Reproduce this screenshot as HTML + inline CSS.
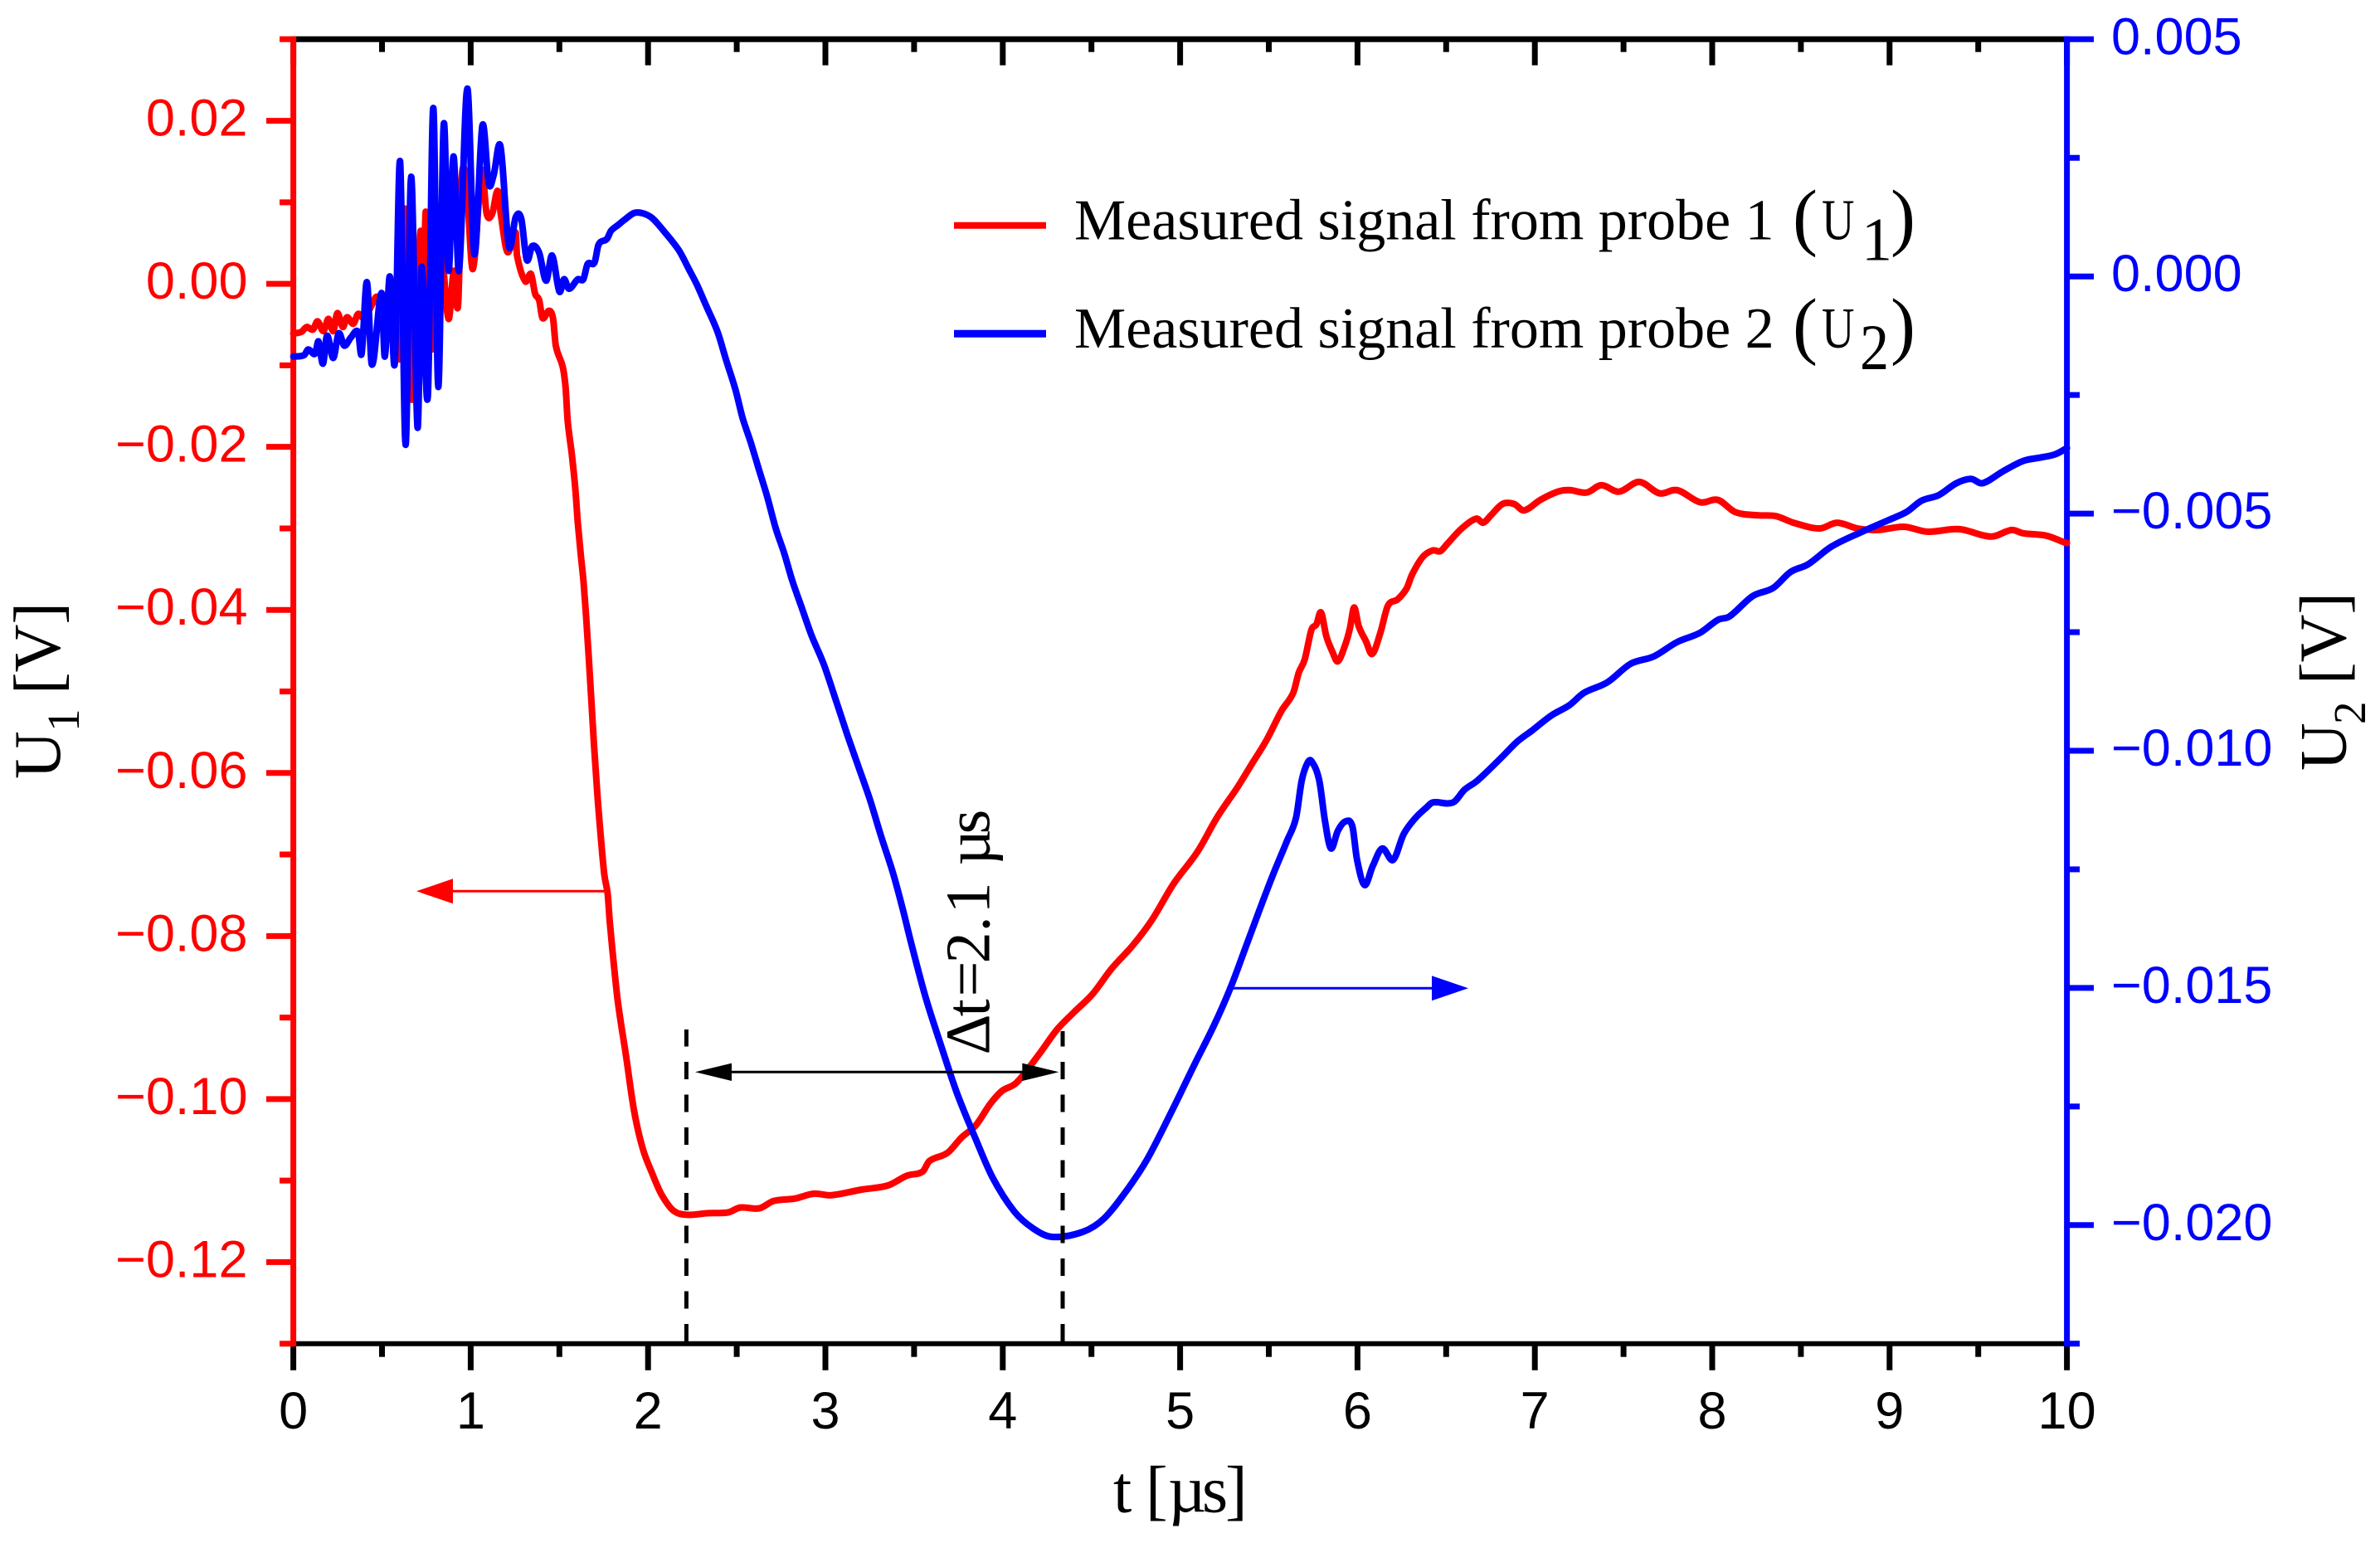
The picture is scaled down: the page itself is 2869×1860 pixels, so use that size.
<!DOCTYPE html>
<html lang="en">
<head>
<meta charset="utf-8">
<title>Measured signals from probes 1 and 2</title>
<style>
html,body{margin:0;padding:0;background:#fff;width:2869px;height:1860px;overflow:hidden}
svg{display:block}
.tick{font-family:"Liberation Sans",Arial,sans-serif;font-size:63px}
.serif{font-family:"Liberation Serif","Times New Roman",serif;fill:#000}
</style>
</head>
<body>
<svg id="chart" xmlns="http://www.w3.org/2000/svg" width="2869" height="1860" viewBox="0 0 2869 1860">
  <rect x="0" y="0" width="2869" height="1860" fill="#fff"/>
  <g id="axes"></g>
  <g id="series" fill="none" stroke-width="8" stroke-linejoin="round" stroke-linecap="round"></g>

  <g>
    <line x1="827.4" y1="1617" x2="827.4" y2="1241" stroke="#000" stroke-width="5" stroke-dasharray="21 18.5"/>
    <line x1="1281" y1="1617" x2="1281" y2="1243" stroke="#000" stroke-width="5" stroke-dasharray="21 18.5"/>
    <line x1="870" y1="1292.3" x2="1245" y2="1292.3" stroke="#000" stroke-width="3"/>
    <polygon points="838,1292.3 882,1281.6 882,1303" fill="#000"/>
    <polygon points="1276.3,1292.3 1232.3,1281.6 1232.3,1303" fill="#000"/>
    <text class="serif" font-size="76" transform="translate(1192.5,1271.4) rotate(-90)" x="0 46 70 110 148 170 208 228 266" y="0">Δt=2.1 µs</text>
  </g>

  <g>
    <line x1="728" y1="1074.3" x2="540" y2="1074.3" stroke="#f00" stroke-width="3"/>
    <polygon points="502,1074.3 546,1059.3 546,1089.3" fill="#f00"/>
  </g>
  <g>
    <line x1="1479" y1="1191.3" x2="1732" y2="1191.3" stroke="#00f" stroke-width="3"/>
    <polygon points="1770,1191.3 1726,1176.3 1726,1206.3" fill="#00f"/>
  </g>

  <g>
    <g>
      <line x1="1150" y1="271.7" x2="1261" y2="271.7" stroke="#f00" stroke-width="8"/>
      <text class="serif" font-size="70" x="1295" y="288.3">Measured signal from probe 1</text>
      <text class="serif" font-size="90" x="2161" y="291">(</text>
      <text class="serif" font-size="70" transform="translate(2196,288.3) scale(.78,1)">U</text>
      <text class="serif" font-size="74" x="2244" y="313.3">1</text>
      <text class="serif" font-size="90" x="2279" y="291">)</text>
    </g>
    <g>
      <line x1="1150" y1="402.3" x2="1261" y2="402.3" stroke="#00f" stroke-width="9"/>
      <text class="serif" font-size="70" x="1295" y="419">Measured signal from probe 2</text>
      <text class="serif" font-size="90" x="2161" y="422">(</text>
      <text class="serif" font-size="70" transform="translate(2196,419) scale(.78,1)">U</text>
      <text class="serif" font-size="78" transform="translate(2242,445) scale(.9,1)">2</text>
      <text class="serif" font-size="90" x="2279" y="422">)</text>
    </g>
  </g>

  <g>
    <text class="serif" font-size="80" x="1342 1364 1381 1408 1449 1477" y="1822.7">t [µs]</text>
  </g>
  <g transform="translate(72,939) rotate(-90)">
    <text class="serif" font-size="80" x="0" y="0">U</text>
    <text class="serif" font-size="55" x="57" y="23">1</text>
    <text class="serif" font-size="80" x="102" y="0">[V]</text>
  </g>
  <g transform="translate(2827.3,929) rotate(-90)">
    <text class="serif" font-size="80" x="0" y="0">U</text>
    <text class="serif" font-size="55" x="56" y="23.5">2</text>
    <text class="serif" font-size="80" x="104" y="0">[V]</text>
  </g>
</svg>

<script>
// ---- Chart data ----
const timeU1 = [0,.045,.076,.111,.136,.170,.198,.225,.248,.279,.302,.338,.365,.40,.445,.471,.49,.52,.56,.60,.63,.669,.716,.735,.747,.786,.83,.875,.905,.929,.95,.977,1.012,1.062,1.09,1.121,1.152,1.171,1.207,1.254,1.261,1.308,1.340,1.363,1.386,1.405,1.441,1.464,1.480,1.519,1.535,1.547,1.570,1.589,1.604,1.620,1.636,1.651,1.664,1.680,1.695,1.714,1.733,1.753,1.772,1.784,1.800,1.829,1.875,1.921,1.969,2.023,2.076,2.144,2.224,2.332,2.452,2.520,2.627,2.708,2.828,2.936,3.030,3.204,3.352,3.459,3.548,3.586,3.688,3.768,3.849,3.929,3.996,4.077,4.198,4.305,4.399,4.507,4.614,4.735,4.842,4.963,5.097,5.210,5.325,5.407,5.489,5.571,5.637,5.669,5.702,5.741,5.768,5.794,5.824,5.856,5.889,5.932,5.958,5.981,6.007,6.047,6.083,6.129,6.171,6.227,6.276,6.309,6.368,6.424,6.467,6.506,6.588,6.670,6.709,6.752,6.818,6.883,6.939,7.031,7.129,7.195,7.293,7.375,7.474,7.589,7.703,7.802,7.933,8.032,8.130,8.261,8.360,8.458,8.606,8.704,8.819,8.934,9.081,9.212,9.393,9.574,9.688,9.754,9.885,9.984,10];
const valuesU1 = [-.0061,-.0059,-.0053,-.0056,-.0046,-.0058,-.0043,-.0058,-.0036,-.0053,-.0041,-.0049,-.0037,-.0042,-.0025,-.0016,-.0030,-.0055,-.0010,-.0090,.0092,-.0142,.0063,.0010,.0088,-.0080,.0040,-.0043,.0016,-.0026,.0131,.0118,.0018,.0139,.0086,.0086,.0114,.0083,.0039,.0063,.0035,.0003,.0012,-.0012,-.0020,-.0042,-.0033,-.0042,-.0076,-.0102,-.0127,-.0168,-.0209,-.0249,-.0293,-.0331,-.0365,-.0409,-.0453,-.0510,-.0565,-.0626,-.0677,-.0724,-.0748,-.0782,-.0819,-.0879,-.0946,-.1014,-.1060,-.1091,-.1117,-.1137,-.1142,-.1140,-.1139,-.1133,-.1134,-.1125,-.1122,-.1116,-.1118,-.1111,-.1106,-.1094,-.1089,-.1076,-.1066,-.1047,-.1032,-.1006,-.0990,-.0980,-.0947,-.0915,-.0894,-.0871,-.0840,-.0811,-.0780,-.0736,-.0697,-.0654,-.0617,-.0588,-.0559,-.0524,-.0502,-.0477,-.0461,-.0424,-.0418,-.0403,-.0432,-.0450,-.0463,-.0442,-.0422,-.0397,-.0420,-.0438,-.0454,-.0428,-.0395,-.0387,-.0374,-.0356,-.0335,-.0327,-.0328,-.0319,-.0300,-.0288,-.0293,-.0284,-.0270,-.0270,-.0278,-.0265,-.0255,-.0253,-.0256,-.0247,-.0255,-.0243,-.0257,-.0253,-.0268,-.0265,-.0280,-.0284,-.0285,-.0293,-.0300,-.0293,-.0300,-.0302,-.0298,-.0304,-.0301,-.0310,-.0302,-.0306,-.0309,-.0317,-.0318];
const timeU2 = [0,.061,.084,.123,.142,.167,.190,.225,.256,.287,.326,.365,.385,.415,.443,.497,.516,.544,.572,.602,.633,.664,.700,.723,.758,.789,.817,.848,.875,.903,.934,.981,1.020,1.066,1.102,1.129,1.168,1.215,1.254,1.285,1.316,1.347,1.386,1.425,1.459,1.500,1.526,1.554,1.604,1.635,1.659,1.698,1.721,1.768,1.791,1.830,1.869,1.924,1.979,2.026,2.088,2.174,2.228,2.275,2.330,2.392,2.439,2.493,2.532,2.579,2.626,2.673,2.720,2.767,2.813,2.868,2.923,2.992,3.063,3.125,3.179,3.250,3.312,3.382,3.437,3.483,3.565,3.655,3.741,3.849,3.943,4.064,4.171,4.278,4.453,4.574,4.708,4.816,4.950,5.084,5.191,5.286,5.358,5.440,5.522,5.604,5.653,5.686,5.719,5.741,5.784,5.817,5.850,5.889,5.932,5.971,5.997,6.040,6.086,6.139,6.201,6.260,6.326,6.391,6.424,6.539,6.604,6.670,6.736,6.818,6.900,6.982,7.096,7.195,7.277,7.408,7.539,7.671,7.802,7.933,8.032,8.097,8.228,8.343,8.442,8.540,8.671,8.835,8.999,9.098,9.180,9.278,9.377,9.459,9.524,9.639,9.754,9.850,9.934,10];
const valuesU2 = [-.00169,-.00166,-.00154,-.00163,-.00137,-.00184,-.00125,-.00172,-.00120,-.00146,-.00128,-.00117,-.00163,-.00012,-.00186,-.00035,-.00169,.00000,-.00183,.00242,-.00355,.00210,-.00318,.00020,-.00253,.00355,-.00233,.00320,.00012,.00253,.00012,.00396,.00047,.00318,.00195,.00213,.00274,.00064,.00125,.00122,.00035,.00064,.00050,-.00009,.00044,-.00032,-.00006,-.00026,-.00006,-.00006,.00026,.00029,.00067,.00079,.00096,.00108,.00120,.00134,.00132,.00122,.00096,.00055,.00017,-.00017,-.00064,-.00117,-.00175,-.00239,-.00297,-.00350,-.00408,-.00466,-.00531,-.00583,-.00641,-.00700,-.00758,-.00819,-.00898,-.00968,-.01026,-.01102,-.01178,-.01259,-.01335,-.01405,-.01520,-.01625,-.01721,-.01820,-.01900,-.01971,-.02007,-.02025,-.02014,-.01985,-.01922,-.01860,-.01762,-.01659,-.01579,-.01498,-.01426,-.01343,-.01263,-.01189,-.01142,-.01062,-.01025,-.01022,-.01062,-.01149,-.01206,-.01169,-.01149,-.01159,-.01229,-.01283,-.01243,-.01206,-.01230,-.01176,-.01142,-.01119,-.01109,-.01109,-.01082,-.01065,-.01042,-.01012,-.00981,-.00958,-.00925,-.00904,-.00878,-.00856,-.00817,-.00801,-.00771,-.00751,-.00724,-.00717,-.00674,-.00657,-.00623,-.00607,-.00570,-.00540,-.00513,-.00496,-.00473,-.00461,-.00436,-.00427,-.00436,-.00411,-.00389,-.00382,-.00375,-.00362];

const xMajorTicks = [0,1,2,3,4,5,6,7,8,9,10];
const xMinorTicks = [.5,1.5,2.5,3.5,4.5,5.5,6.5,7.5,8.5,9.5];
const xTickLabels = ["0","1","2","3","4","5","6","7","8","9","10"];
const leftMajorTicks = [.02,0,-.02,-.04,-.06,-.08,-.10,-.12];
const leftMinorTicks = [.03,.01,-.01,-.03,-.05,-.07,-.09,-.11,-.13];
const leftTickLabels = ["0.02","0.00","\u22120.02","\u22120.04","\u22120.06","\u22120.08","\u22120.10","\u22120.12"];
const rightMajorTicks = [.005,0,-.005,-.01,-.015,-.02];
const rightMinorTicks = [.0025,-.0025,-.0075,-.0125,-.0175,-.0225];
const rightTickLabels = ["0.005","0.000","\u22120.005","\u22120.010","\u22120.015","\u22120.020"];

// ---- Axis functions ----
const plotLeft = 353.6, plotRight = 2491.6, plotTop = 47.3, plotBottom = 1619.7;
const xDomain = [0, 10], leftDomain = [-.13, .03], rightDomain = [-.0225, .005];
function xScale(t){ return plotLeft + (t - xDomain[0]) / (xDomain[1] - xDomain[0]) * (plotRight - plotLeft); }
function yLeft(v){ return plotBottom - (v - leftDomain[0]) / (leftDomain[1] - leftDomain[0]) * (plotBottom - plotTop); }
function yRight(v){ return plotBottom - (v - rightDomain[0]) / (rightDomain[1] - rightDomain[0]) * (plotBottom - plotTop); }

// ---- Drawing ----
const NS = 'http://www.w3.org/2000/svg';
const axesGroup = document.getElementById('axes');
const seriesGroup = document.getElementById('series');
function makeLine(x1, y1, x2, y2, color, width){
  const l = document.createElementNS(NS, 'line');
  l.setAttribute('x1', x1);
  l.setAttribute('y1', y1);
  l.setAttribute('x2', x2);
  l.setAttribute('y2', y2);
  l.setAttribute('stroke', color);
  l.setAttribute('stroke-width', width);
  axesGroup.appendChild(l);
  return l;
}
function makeLabel(x, y, str, color, anchor){
  const t = document.createElementNS(NS, 'text');
  t.setAttribute('x', x);
  t.setAttribute('y', y);
  t.setAttribute('fill', color);
  t.setAttribute('text-anchor', anchor);
  t.setAttribute('class', 'tick');
  t.textContent = str;
  axesGroup.appendChild(t);
  return t;
}

// top and bottom (black) axes
const topLine = makeLine(plotLeft, plotTop, plotRight, plotTop, '#000', 7);


const bottomLine = makeLine(plotLeft, plotBottom, plotRight, plotBottom, '#000', 6);



xMajorTicks.forEach(function(t, i){
  const b = makeLine(xScale(t), plotBottom, xScale(t), 1651.7, '#000', 7);
  
  
  const a = makeLine(xScale(t), plotTop, xScale(t), 78.7, '#000', 7);
  
  
  const lab = makeLabel(xScale(t), 1722, xTickLabels[i], '#000', 'middle');
  
  
});
xMinorTicks.forEach(function(t){
  const b = makeLine(xScale(t), plotBottom, xScale(t), 1635.7, '#000', 7);
  
  
  const a = makeLine(xScale(t), plotTop, xScale(t), 62.7, '#000', 7);
  
  
});

// left (red) axis
leftMajorTicks.forEach(function(v, i){
  const m = makeLine(321, yLeft(v), plotLeft, yLeft(v), '#f00', 7);
  
  
  const lab = makeLabel(298.5, yLeft(v) + 18, leftTickLabels[i], '#f00', 'end');
  
  
});
leftMinorTicks.forEach(function(v){
  const m = makeLine(337, yLeft(v), plotLeft, yLeft(v), '#f00', 7);
  
  
});
const leftLine = makeLine(plotLeft, plotTop - 3.5, plotLeft, plotBottom + 3.5, '#f00', 7);



// right (blue) axis
rightMajorTicks.forEach(function(v, i){
  const m = makeLine(plotRight, yRight(v), 2524, yRight(v), '#00f', 7);
  
  
  const lab = makeLabel(2545, yRight(v) + 18, rightTickLabels[i], '#00f', 'start');
  
  
});
rightMinorTicks.forEach(function(v){
  const m = makeLine(plotRight, yRight(v), 2507, yRight(v), '#00f', 7);
  
  
});
const rightLine = makeLine(plotRight, plotTop - 3.5, plotRight, plotBottom + 3.5, '#00f', 7);



// series: cubic Hermite through every data point, so the curve stays smooth
function pathFrom(times, values, yFn){
  const xs = times.map(xScale);
  const ys = values.map(yFn);
  const n = xs.length;
  function slope(i){
    const a = Math.max(0, i - 1), b = Math.min(n - 1, i + 1);
    return (ys[b] - ys[a]) / (xs[b] - xs[a]);
  }
  let d = 'M' + xs[0].toFixed(1) + ' ' + ys[0].toFixed(1);
  for (let i = 0; i < n - 1; i++) {
    const dx = (xs[i + 1] - xs[i]) / 3;
    d += ' C' + (xs[i] + dx).toFixed(1) + ' ' + (ys[i] + slope(i) * dx).toFixed(1) + ' ' +
      (xs[i + 1] - dx).toFixed(1) + ' ' + (ys[i + 1] - slope(i + 1) * dx).toFixed(1) + ' ' +
      xs[i + 1].toFixed(1) + ' ' + ys[i + 1].toFixed(1);
  }
  return d;
}
const curveU1 = document.createElementNS(NS, 'path');
curveU1.setAttribute('d', pathFrom(timeU1, valuesU1, yLeft));
curveU1.setAttribute('stroke', '#f00');


seriesGroup.appendChild(curveU1);
const curveU2 = document.createElementNS(NS, 'path');
curveU2.setAttribute('d', pathFrom(timeU2, valuesU2, yRight));
curveU2.setAttribute('stroke', '#00f');


seriesGroup.appendChild(curveU2);
</script>
</body>
</html>
